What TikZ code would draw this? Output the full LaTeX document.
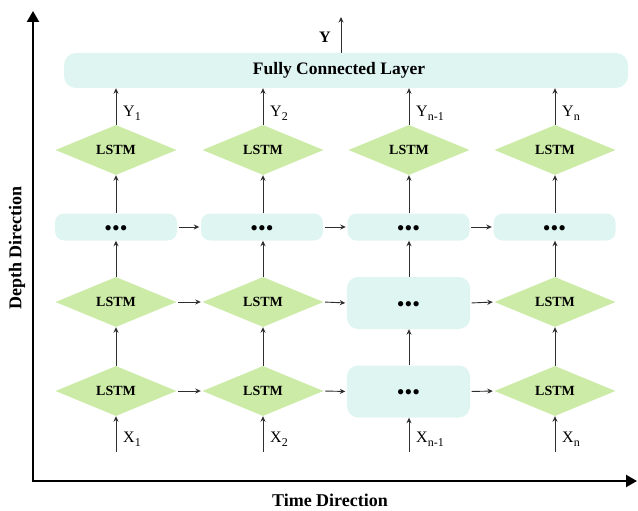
\documentclass[tikz,border=0pt]{standalone}
\usepackage{fontspec}
\setmainfont{Liberation Serif}
\usetikzlibrary{shapes.geometric,arrows.meta}
\definecolor{lstmgreen}{HTML}{CCEBA6}
\definecolor{boxcyan}{HTML}{DFF5F1}
\definecolor{linegray}{HTML}{2E2E2E}
\newcommand{\mysubs}[1]{\raisebox{-4pt}{\fontsize{12}{12}\selectfont #1}}
\newcommand{\mydots}{\raisebox{-8pt}[0pt][0pt]{•••}}
\begin{document}
\begin{tikzpicture}[x=1pt,y=-1pt,
 lstm/.style={diamond, fill=lstmgreen, minimum width=121pt, minimum height=50pt, inner sep=0pt, font=\fontsize{14}{14}\selectfont\bfseries},
 dotbox/.style={rounded corners=9pt, fill=boxcyan, minimum width=122pt, minimum height=27pt, inner sep=0pt, font=\fontsize{22}{22}\selectfont},
 bigdotbox/.style={dotbox, minimum width=123pt, minimum height=52pt, rounded corners=11pt},
 conn/.style={-{Stealth[length=5.5pt,width=5pt]}, line width=0.9pt, draw=linegray},
 hconn/.style={conn, shorten <=1.5pt, shorten >=1.5pt},
 lab/.style={anchor=west, font=\fontsize{16}{16}\selectfont, inner sep=0pt},
 axis/.style={line width=2.2pt, {Triangle[length=11pt,width=12pt]}-{Triangle[length=11pt,width=12pt]}},
 axlab/.style={font=\fontsize{18}{18}\selectfont\bfseries, inner sep=0pt}
]
\useasboundingbox (0,0) rectangle (638,511);

% axes
\coordinate (ytip) at (33,11);
\coordinate (origin) at (33,481);
\coordinate (xtip) at (637,481);
\draw[axis] (ytip) -- (origin) -- (xtip);
\node[axlab, rotate=90] (depth) at (17,248) {Depth Direction};
\node[axlab] (time) at (330,500) {Time Direction};

% fully connected layer
\node[fill=boxcyan, rounded corners=12pt, minimum width=564pt, minimum height=35pt, inner sep=0pt] (fc) at (346,70.5) {};
\node[axlab, font=\fontsize{17.5}{17.5}\selectfont\bfseries] (fct) at (339,70) {Fully Connected Layer};
\coordinate (yout) at (341,17);
\draw[conn] (fc.north -| yout) -- (yout);
\node[font=\fontsize{16}{16}\selectfont\bfseries, inner sep=0pt] (ylab) at (325,37) {Y};

% row A (top LSTMs)
\node[lstm] (a1) at (116,150) {LSTM};
\node[lstm] (a2) at (263,150) {LSTM};
\node[lstm] (a3) at (409,150) {LSTM};
\node[lstm] (a4) at (555,150) {LSTM};

% dots row
\node[dotbox] (d1) at (116,227) {\mydots};
\node[dotbox] (d2) at (262,227) {\mydots};
\node[dotbox] (d3) at (408.5,227) {\mydots};
\node[dotbox] (d4) at (554.5,227) {\mydots};

% row B
\node[lstm] (b1) at (116,302) {LSTM};
\node[lstm] (b2) at (263,302) {LSTM};
\node[bigdotbox] (b3) at (408.5,303) {\mydots};
\node[lstm] (b4) at (555,302) {LSTM};

% row C
\node[lstm] (c1) at (116,391) {LSTM};
\node[lstm] (c2) at (263,391) {LSTM};
\node[bigdotbox] (c3) at (408.5,391.5) {\mydots};
\node[lstm] (c4) at (555,391) {LSTM};

% horizontal connectors
\draw[hconn] (d1.east) -- (d2.west);
\draw[hconn] (d2.east) -- (d3.west);
\draw[hconn] (d3.east) -- (d4.west);
\draw[hconn] (b1.east) -- (b2.west);
\draw[hconn] (b2.east) -- (b3.west);
\draw[hconn] (b3.east) -- (b4.west);
\draw[hconn] (c1.east) -- (c2.west);
\draw[hconn] (c2.east) -- (c3.west);
\draw[hconn] (c3.east) -- (c4.west);

% vertical connectors and inputs/outputs
\foreach \i/\x in {1/116,2/263,3/409,4/555}{
  \coordinate (x\i) at (\x,452);
  \draw[conn] (x\i) -- (x\i |- c\i.south);
  \draw[conn] (x\i |- c\i.north) -- (x\i |- b\i.south);
  \draw[conn] (x\i |- b\i.north) -- (x\i |- d\i.south);
  \draw[conn] (x\i |- d\i.north) -- (x\i |- a\i.south);
  \draw[conn] (a\i.north) -- (a\i.north |- fc.south);
}

% labels
\node[lab] (ly1) at (123,113) {Y\mysubs{1}};
\node[lab] (ly2) at (270,113) {Y\mysubs{2}};
\node[lab] (ly3) at (416,113) {Y\mysubs{n-1}};
\node[lab] (ly4) at (562,113) {Y\mysubs{n}};
\node[lab] (lx1) at (123,439) {X\mysubs{1}};
\node[lab] (lx2) at (270,439) {X\mysubs{2}};
\node[lab] (lx3) at (416,439) {X\mysubs{n-1}};
\node[lab] (lx4) at (562,439) {X\mysubs{n}};
\end{tikzpicture}
\end{document}
